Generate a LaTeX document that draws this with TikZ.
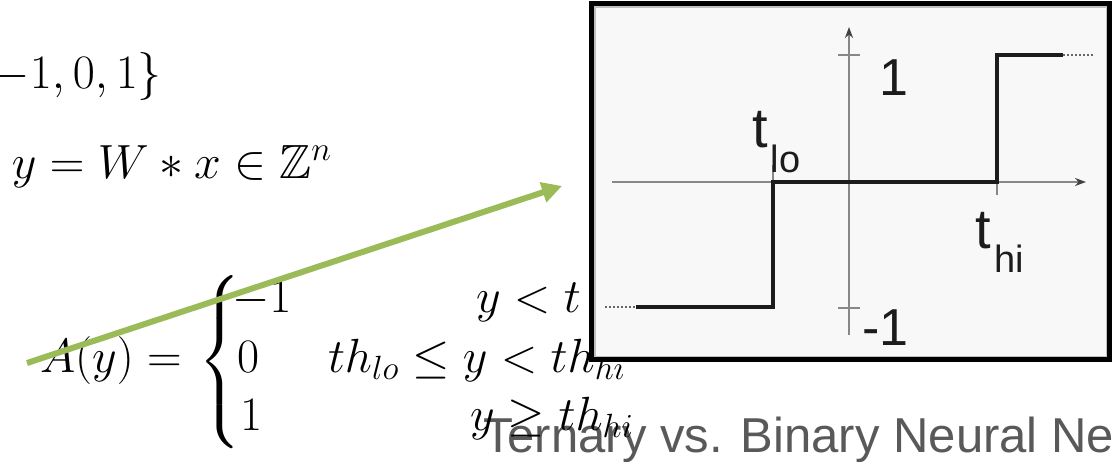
\RequirePackage{fix-cm}
\documentclass[tikz,border=0pt]{standalone}
\usepackage{amsmath,amssymb}
\usepackage{fontspec}
\newfontfamily\plotfont{Liberation Sans}
\usetikzlibrary{arrows.meta}
\definecolor{arrowgreen}{RGB}{155,187,89}
\definecolor{titlegrey}{RGB}{89,89,89}
\definecolor{axisgrey}{RGB}{135,135,135}
\definecolor{boxfill}{RGB}{248,248,248}
\definecolor{stepblack}{RGB}{28,28,28}
\tikzset{
  mtext/.style={inner sep=0pt, outer sep=0pt, font=\fontsize{48}{56}\selectfont},
  plotlabel/.style={inner sep=0pt, outer sep=0pt, text=stepblack, font=\plotfont\fontsize{52}{60}\selectfont},
  axisline/.style={draw=axisgrey, line width=2.5pt},
  axisarrow/.style={axisline, -{Stealth[length=11pt,width=8pt,color=black!75]}},
  stepline/.style={draw=stepblack, line width=3.5pt},
  dotline/.style={draw=black!60, line width=2.5pt, dash pattern=on 2pt off 2pt},
  greenarrow/.style={draw=arrowgreen, line width=6pt, -{Triangle[length=20pt,width=20pt]}},
  plotbox/.style={draw=black, line width=5pt, fill=boxfill},
}
\begin{document}
\begin{tikzpicture}[x=1pt,y=-1pt]
\useasboundingbox (0,0) rectangle (1114,461);
\clip (0,0) rectangle (1114,461);
\fill[white] (0,0) rectangle (1114,461);

% left-hand formulas
\node[mtext, anchor=base east] (set) at (162,88) {$-1,0,1\}$};
\node[mtext, anchor=base west] (prod) at (12,178) {$y=W\ast x\in\mathbb{Z}^n$};
\node[mtext, anchor=base west] (Ay) at (40,372) {$A(y)=$};
\node[mtext] (brace) at (220,362) {$\left\{\vcenter{\hbox{\rule{0pt}{172pt}}}\right.$};
\node[mtext, anchor=base west] (vneg) at (232,312) {$-1$};
\node[mtext, anchor=base west] (vzero) at (237,372) {$0$};
\node[mtext, anchor=base west] (vone) at (240,430) {$1$};
\node[mtext, anchor=base west] (cneg) at (476,312) {$y<t$};
\node[mtext, anchor=base west] (czero) at (328,372) {$th_{lo}\le y<th_{hi}$};

% title (partly visible)
\node[inner sep=0pt, anchor=base west, text=titlegrey, font=\plotfont\fontsize{49}{56}\selectfont] (title) at (483,452) {Ternary vs. Binary Neural Ne};
\node[mtext, anchor=base west] (cone) at (470,430) {$y\ge th_{hi}$};

% plot box
\draw[plotbox] (591.5,3.5) rectangle (1109.5,359.5);
\draw[black!25, line width=1.5pt] (594.75,6.75) rectangle (1106.25,356.25);

% axes
\draw[axisarrow] (612,182) -- (1086,182);
\draw[axisarrow] (849,335) -- (849,27);
\draw[axisline] (838,55) -- (860,55);
\draw[axisline] (838,308) -- (860,308);
\draw[axisline] (773,165) -- (773,190);
\draw[axisline] (997,182) -- (997,195);

% step function
\draw[stepline] (636,307) -- (773,307) -- (773,182) -- (997,182) -- (997,55) -- (1063,55);
\draw[dotline] (605,307) -- (636,307);
\draw[dotline] (1063,55) -- (1093,55);

% plot labels
\node[plotlabel, anchor=base west] (lone) at (879,95) {1};
\node[plotlabel, anchor=base west] (lmone) at (862,345) {-1};
\node[plotlabel, anchor=base west] (tlo) at (752,147) {\fontsize{56}{56}\selectfont t\kern3pt\fontsize{38}{38}\selectfont\raisebox{-25pt}{lo}};
\node[plotlabel, anchor=base west] (thi) at (975,248) {\fontsize{56}{56}\selectfont t\kern4pt\fontsize{38}{38}\selectfont\raisebox{-24pt}{hi}};

% green arrow
\coordinate (gtail) at (27,363);
\coordinate (ghead) at (562,186);
\draw[greenarrow] (gtail) -- (ghead);
\end{tikzpicture}
\end{document}
